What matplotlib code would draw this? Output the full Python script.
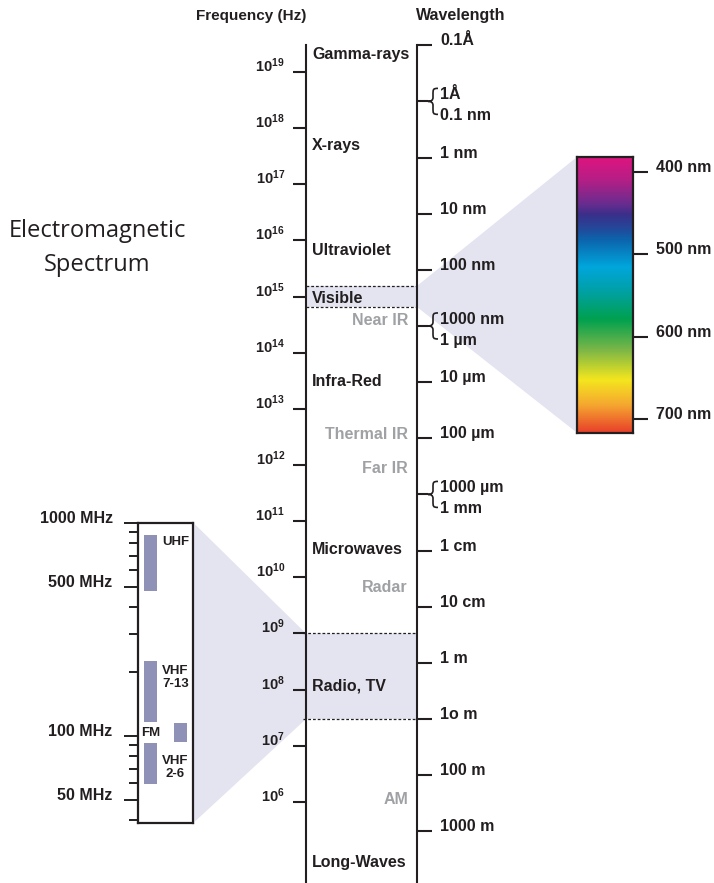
import matplotlib
matplotlib.use('Agg')
import numpy as np
import matplotlib.pyplot as plt
from matplotlib import font_manager, ticker
from matplotlib.colors import LinearSegmentedColormap
from matplotlib.patches import Polygon, PathPatch
from matplotlib.path import Path

installed = {f.name for f in font_manager.fontManager.ttflist}
BOLD = 'Liberation Sans Narrow' if 'Liberation Sans Narrow' in installed else 'Liberation Sans'
plt.rcParams['font.family'] = [BOLD, 'DejaVu Sans']
plt.rcParams['font.weight'] = 'bold'
plt.rcParams['mathtext.fontset'] = 'custom'
plt.rcParams['mathtext.rm'] = BOLD + ':bold'
plt.rcParams['mathtext.it'] = BOLD + ':bold'
plt.rcParams['mathtext.bf'] = BOLD + ':bold'

INK = '#231f20'
GREY = '#9fa1a4'
LAV = '#e3e4ef'
BAR = '#8f92b6'

# ---- data ----
C = 2.998e8
freq_exp = list(range(19, 5, -1))

wl_m = [1e-11, 1e-9, 1e-8, 1e-7, 1e-5, 1e-4, 1e-2, 1e-1, 1.0, 10.0, 100.0, 1000.0]
wl_labels = ['0.1Å', '1 nm', '10 nm', '100 nm', '10 µm', '100 µm',
             '1 cm', '10 cm', '1 m', '1o m', '100 m', '1000 m']
brace_m = [1e-10, 1e-6, 1e-3]
brace_labels = [('1Å', '0.1 nm'), ('1000 nm', '1 µm'), ('1000 µm', '1 mm')]

bands = ['Gamma-rays', 'X-rays', 'Ultraviolet', 'Visible', 'Infra-Red',
         'Microwaves', 'Radio, TV', 'Long-Waves']
band_logf = [19.23, 17.61, 15.74, 14.88, 13.40, 10.42, 7.99, 4.85]
sub_bands = ['Near IR', 'Thermal IR', 'Far IR', 'Radar', 'AM']
sub_logf = [14.49, 12.46, 11.86, 9.73, 5.96]

visible_logf = (14.815, 15.19)
radio_logf = (7.477, 9.0)

spec_nm = [400, 500, 600, 700]
spec_stops = [0.0, 0.085, 0.17, 0.21, 0.26, 0.30, 0.40, 0.49, 0.59, 0.70, 0.81, 0.90, 1.0]
spec_colors = ['#e0147f', '#b41f86', '#6a2c8f', '#3a2f8a', '#24489a', '#0c64ad',
               '#00a6dc', '#00a0a4', '#00a14f', '#7ab648', '#f4e61e', '#f5a830', '#e8402a']

mhz_major = [50, 100, 500, 1000]
mhz_minor = [40, 60, 70, 80, 90, 200, 300, 400, 600, 700, 800, 900]
tv_names = ['UHF', 'VHF\n7-13', 'FM', 'VHF\n2-6']
tv_lo = [480, 116, 93, 59.4]
tv_hi = [875, 224, 115, 92.8]
tv_x = [0.228, 0.228, 0.77, 0.228]
tv_label_xy = [(0.44, 814), (0.68, 187), (0.07, 103), (0.68, 71)]
tv_label_ha = ['left', 'center', 'left', 'center']

# ---- layout (pixels) ----
W, H = 714, 883
PPD = 56.15          # pixels per decade on the main scale
E0 = 20.282          # log10(Hz) at the top edge of the figure


def box(l, t, r, b):
    return [l / W, 1 - b / H, (r - l) / W, (b - t) / H]


def hz_at(ypx):
    return 10 ** (E0 - ypx / PPD)


fig = plt.figure(figsize=(W / 100, H / 100), dpi=100)

ax = fig.add_axes(box(306, 45, 417, 883))
ax.set_xlim(306, 417)
ax.set_yscale('log')
ax.set_ylim(hz_at(883), hz_at(45))
ax.patch.set_visible(False)
for s in ['top', 'bottom', 'right']:
    ax.spines[s].set_visible(False)
ax.spines['left'].set_linewidth(1.5)
ax.spines['left'].set_color(INK)
ax.set_xticks([])
ax.set_yticks([10.0 ** e for e in freq_exp])
ax.set_yticklabels([r'$10^{%d}$' % e for e in freq_exp])
ax.yaxis.set_minor_locator(ticker.NullLocator())
ax.tick_params(axis='y', which='major', direction='out', length=9.4, width=1.5,
               pad=5.8, labelsize=10.5, color=INK, labelcolor=INK)
plt.setp(ax.get_yticklabels(), va='baseline')

ax2 = ax.twinx()
ax2.set_yscale('log')
ax2.set_ylim(C / hz_at(883), C / hz_at(45))
for s in ['top', 'bottom', 'left']:
    ax2.spines[s].set_visible(False)
ax2.spines['right'].set_linewidth(1.5)
ax2.spines['right'].set_color(INK)
ax2.set_yticks(wl_m)
ax2.set_yticklabels(wl_labels)
ax2.set_yticks(brace_m, minor=True)
ax2.yaxis.set_minor_formatter(ticker.NullFormatter())
ax2.tick_params(axis='y', which='major', direction='out', length=10.8, width=1.5,
                pad=5.8, labelsize=11.5, color=INK, labelcolor=INK)
ax2.tick_params(axis='y', which='minor', direction='out', length=7.9, width=1.5, color=INK)
plt.setp(ax2.get_yticklabels(), va='baseline')

# braces for double labels
for lam, (up, low) in zip(brace_m, brace_labels):
    f = C / lam

    def u(d):
        return f * 10 ** (d / PPD)

    verts = [(438, u(13)), (433, u(13)), (433, u(12)), (433, u(7)),
             (433, u(4)),
             (433, u(1)), (431, u(0)), (428, u(0)),
             (431, u(0)), (433, u(-1)), (433, u(-4)),
             (433, u(-7)),
             (433, u(-12)), (433, u(-13)), (438, u(-13))]
    codes = [Path.MOVETO, Path.CURVE4, Path.CURVE4, Path.CURVE4,
             Path.LINETO,
             Path.CURVE4, Path.CURVE4, Path.CURVE4,
             Path.CURVE4, Path.CURVE4, Path.CURVE4,
             Path.LINETO,
             Path.CURVE4, Path.CURVE4, Path.CURVE4]
    ax.add_patch(PathPatch(Path(verts, codes), fc='none', ec=INK, lw=1.2, clip_on=False))
    ax.text(440, u(2), up, ha='left', va='baseline', fontsize=11.5, color=INK, clip_on=False)
    ax.text(440, u(-19), low, ha='left', va='baseline', fontsize=11.5, color=INK, clip_on=False)

# band names
for name, lf in zip(bands, band_logf):
    ax.text(312, 10 ** lf, name, ha='left', va='baseline', fontsize=11.5, color=INK)
for name, lf in zip(sub_bands, sub_logf):
    ax.text(408, 10 ** lf, name, ha='right', va='baseline', fontsize=11.5, color=GREY)

# headers
fig.text(306 / W, 1 - 20 / H, 'Frequency (Hz)', ha='right', va='baseline', fontsize=11, color=INK)
fig.text(416 / W, 1 - 20 / H, 'Wavelength', ha='left', va='baseline', fontsize=11.5, color=INK)
fig.text(97 / W, 1 - 237 / H, 'Electromagnetic', ha='center', va='baseline',
         family='Open Sans', weight='normal', fontsize=17, color=INK)
fig.text(97 / W, 1 - 271 / H, 'Spectrum', ha='center', va='baseline',
         family='Open Sans', weight='normal', fontsize=17, color=INK)

# ---- visible spectrum bar ----
cb_l, cb_t, cb_r, cb_b = 577.3, 156.7, 632.7, 433
nm_top = 400 - (172 - cb_t) / 0.8233
nm_bot = 700 + (cb_b - 419) / 0.8233
ax_cb = fig.add_axes(box(cb_l, cb_t, cb_r, cb_b))
spec_cmap = LinearSegmentedColormap.from_list('spec', list(zip(spec_stops, spec_colors)))
grad = np.linspace(0, 1, 400).reshape(-1, 1)
ax_cb.imshow(grad, cmap=spec_cmap, aspect='auto', origin='upper',
             extent=(0, 1, nm_bot, nm_top), interpolation='bilinear')
ax_cb.set_xlim(0, 1)
ax_cb.set_ylim(nm_bot, nm_top)
ax_cb.set_xticks([])
ax_cb.yaxis.tick_right()
ax_cb.set_yticks(spec_nm)
ax_cb.set_yticklabels(['%d nm' % n for n in spec_nm])
ax_cb.tick_params(axis='y', direction='out', length=10.8, width=1.5, pad=5.8,
                  labelsize=11.5, color=INK, labelcolor=INK)
plt.setp(ax_cb.get_yticklabels(), va='baseline')
for s in ax_cb.spines.values():
    s.set_linewidth(1.6)
    s.set_color(INK)

lo_hz, hi_hz = 10 ** visible_logf[0], 10 ** visible_logf[1]
ax.add_patch(Polygon([(306, hi_hz), (417, hi_hz), (cb_l, hz_at(cb_t)), (cb_l, hz_at(cb_b)),
                      (417, lo_hz), (306, lo_hz)],
                     closed=True, fc=LAV, ec='none', clip_on=False, zorder=0))
ax.hlines([lo_hz, hi_hz], 306, 417, colors=INK, linestyles=(0, (2.2, 1.6)), lw=0.9)

# ---- radio / TV detail ----
rb_l, rb_t, rb_r, rb_b = 137.7, 522.7, 193.3, 823
ax_r = fig.add_axes(box(rb_l, rb_t, rb_r, rb_b))
ax_r.set_yscale('log')
ax_r.set_ylim(1000 / 10 ** ((rb_b - rb_t) / 213.0), 1000)
ax_r.set_xlim(0, 1)
ax_r.set_xticks([])
ax_r.set_yticks(mhz_major)
ax_r.set_yticklabels(['%d MHz' % m for m in mhz_major])
ax_r.set_yticks(mhz_minor, minor=True)
ax_r.yaxis.set_minor_formatter(ticker.NullFormatter())
ax_r.tick_params(axis='y', which='major', direction='out', length=10, width=1.4, pad=8,
                 labelsize=11.5, color=INK, labelcolor=INK)
ax_r.tick_params(axis='y', which='minor', direction='out', length=6.5, width=1.4, color=INK)
plt.setp(ax_r.get_yticklabels(), va='baseline')
for s in ax_r.spines.values():
    s.set_linewidth(1.6)
    s.set_color(INK)

ax_r.bar(tv_x, np.array(tv_hi) - np.array(tv_lo), bottom=tv_lo, width=0.23,
         color=BAR, linewidth=0)
for name, (x, y), ha in zip(tv_names, tv_label_xy, tv_label_ha):
    ax_r.text(x, y, name, ha=ha, va='center', fontsize=9.5, color=INK,
              linespacing=1.1, multialignment='center')

r_lo, r_hi = 10 ** radio_logf[0], 10 ** radio_logf[1]
ax.add_patch(Polygon([(rb_r, hz_at(rb_t)), (306, r_hi), (417, r_hi), (417, r_lo),
                      (306, r_lo), (rb_r, hz_at(rb_b))],
                     closed=True, fc=LAV, ec='none', clip_on=False, zorder=0))
ax.hlines([r_lo, r_hi], 303, 417, colors=INK, linestyles=(0, (2.2, 1.6)), lw=0.9, clip_on=False)

fig.savefig('out.png', dpi=100)
